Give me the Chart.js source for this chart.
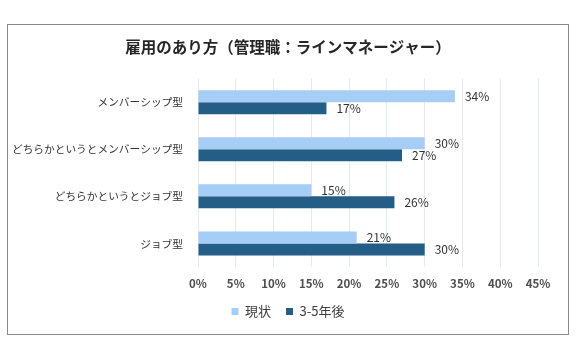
<!DOCTYPE html>
<html>
<head>
<meta charset="utf-8">
<script src="https://cdn.jsdelivr.net/npm/chart.js@4/dist/chart.umd.min.js"></script>
<style>
    body { margin: 0; background: #fff; }
    #box {
        position: absolute;
        left: 7px;
        top: 24px;
        width: 560px;
        height: 309px;
        border: 1px solid #8a8a8a;
    }
</style>
</head>
<body>
<div id="box"><canvas id="myChart" width="560" height="309"></canvas></div>
<script>
const categories = ['メンバーシップ型', 'どちらかというとメンバーシップ型', 'どちらかというとジョブ型', 'ジョブ型'];
const seriesNames = ['現状', '3-5年後'];
const genzai = [34, 30, 15, 21];
const gonen = [17, 27, 26, 30];
const xTicks = [0, 5, 10, 15, 20, 25, 30, 35, 40, 45];

const FONT = '"Noto Sans CJK JP", "Noto Sans", sans-serif';

// подписи значений справа от столбцов
const valueLabels = {
    id: 'valueLabels',
    afterDatasetsDraw(chart) {
        const ctx = chart.ctx;
        ctx.save();
        ctx.font = '12px ' + FONT;
        ctx.fillStyle = '#333333';
        ctx.textAlign = 'left';
        ctx.textBaseline = 'middle';
        chart.data.datasets.forEach((ds, i) => {
            chart.getDatasetMeta(i).data.forEach((bar, j) => {
                ctx.fillText(ds.data[j] + '%', bar.x + 10, bar.y);
            });
        });
        ctx.restore();
    }
};

const ctx = document.getElementById('myChart').getContext('2d');
window.chart = new Chart(ctx, {
    type: 'bar',
    data: {
        labels: categories,
        datasets: [{
            label: seriesNames[0],
            data: genzai,
            backgroundColor: '#A6CDF6',
            barPercentage: 1,
            categoryPercentage: 0.51
        }, {
            label: seriesNames[1],
            data: gonen,
            backgroundColor: '#245D85',
            barPercentage: 1,
            categoryPercentage: 0.51
        }]
    },
    options: {
        indexAxis: 'y',
        responsive: false,
        animation: false,
        layout: {
            padding: { left: 0, right: 0, top: 0, bottom: 6 }
        },
        plugins: {
            title: {
                display: true,
                text: '雇用のあり方（管理職：ラインマネージャー）',
                color: '#262626',
                font: { family: FONT, size: 15.5, weight: 'bold' },
                padding: { top: 13, bottom: 22 }
            },
            legend: {
                position: 'bottom',
                labels: {
                    boxWidth: 7,
                    boxHeight: 7,
                    padding: 15,
                    color: '#404040',
                    font: { family: FONT, size: 13 }
                }
            },
            tooltip: { enabled: false }
        },
        scales: {
            x: {
                min: 0,
                max: 45,
                afterBuildTicks: (scale) => {
                    scale.ticks = xTicks.map((v) => ({ value: v }));
                },
                afterFit: (scale) => {
                    scale.height = 23;
                    scale.paddingRight = 30;
                },
                grid: { color: '#E1EBF5', drawTicks: false },
                border: { display: false },
                ticks: {
                    padding: 10,
                    color: '#4d4d4d',
                    font: { family: FONT, size: 11.5, weight: 'bold' },
                    callback: (v) => v + '%'
                }
            },
            y: {
                grid: { display: false, drawTicks: false },
                border: { display: false },
                afterFit: (scale) => { scale.width = 190; },
                ticks: {
                    padding: 15,
                    color: '#333333',
                    font: { family: FONT, size: 10.7 }
                }
            }
        }
    },
    plugins: [valueLabels]
});
</script>
</body>
</html>
